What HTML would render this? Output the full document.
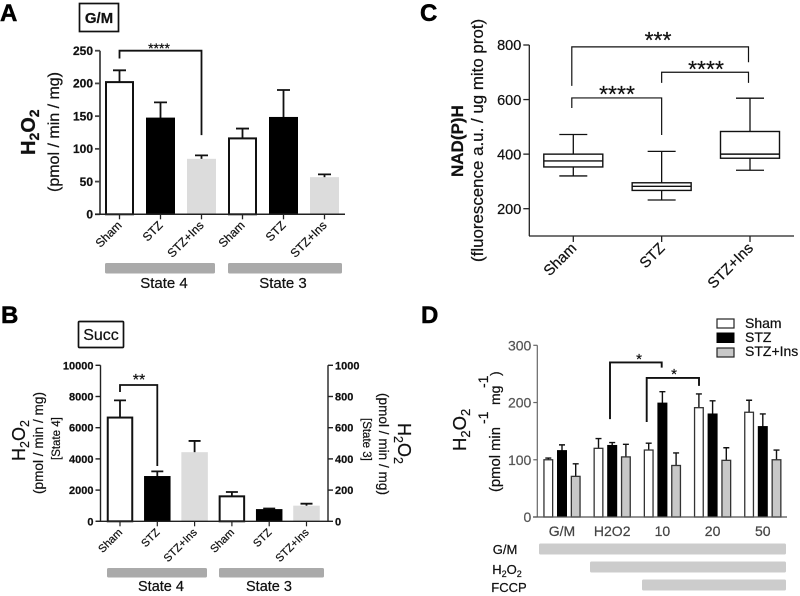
<!DOCTYPE html>
<html><head><meta charset="utf-8"><title>H2O2 and NAD(P)H panels</title>
<style>
html,body{margin:0;padding:0;background:#fff}
svg{display:block;filter:blur(.35px)}
text{font-family:"Liberation Sans",sans-serif;fill:#111;stroke:#111;stroke-width:.22px}
.l{font-size:24px;font-weight:bold;fill:#000;stroke:#000;stroke-width:.5px}
</style></head>
<body>
<svg id="fig" width="800" height="596" viewBox="0 0 800 596" xmlns="http://www.w3.org/2000/svg">
<text class="l" x="0" y="21">A</text>
<text class="l" x="420" y="21">C</text>
<text class="l" x="1" y="323">B</text>
<text class="l" x="421" y="323">D</text>

<rect x="79.5" y="3.5" width="39" height="28" fill="#fff" stroke="#111" stroke-width="1.7"/>
<text x="99" y="23" font-size="15" font-weight="bold" text-anchor="middle">G/M</text>
<text transform="translate(35,155) rotate(-90)" font-size="20" font-weight="bold">H<tspan font-size="14" dy="4">2</tspan><tspan dy="-4">O</tspan><tspan font-size="14" dy="4">2</tspan></text>
<text transform="translate(59,192) rotate(-90)" font-size="16">(pmol / min / mg)</text>
<rect x="105" y="263" width="110" height="10.5" rx="1.5" fill="#aaa"/>
<rect x="228" y="263" width="114" height="10.5" rx="1.5" fill="#aaa"/>
<text x="164" y="288" font-size="15" text-anchor="middle">State 4</text>
<text x="283" y="288" font-size="15" text-anchor="middle">State 3</text>

<rect x="78.5" y="321.5" width="45" height="26" rx="1" fill="#fff" stroke="#111" stroke-width="1.7"/>
<text x="101" y="340" font-size="16" text-anchor="middle">Succ</text>
<text transform="translate(25,461) rotate(-90)" font-size="18">H<tspan font-size="12.5" dy="4">2</tspan><tspan dy="-4">O</tspan><tspan font-size="12.5" dy="4">2</tspan></text>
<text transform="translate(43,494) rotate(-90)" font-size="13.6">(pmol / min / mg)</text>
<text transform="translate(60,460) rotate(-90)" font-size="11.5">[State 4]</text>
<text transform="translate(379,393) rotate(90)" font-size="13.6">(pmol / min / mg)</text>
<text transform="translate(363,418) rotate(90)" font-size="11.5">[State 3]</text>
<text transform="translate(398,423) rotate(90)" font-size="18">H<tspan font-size="12.5" dy="4">2</tspan><tspan dy="-4">O</tspan><tspan font-size="12.5" dy="4">2</tspan></text>
<rect x="107" y="568" width="100" height="9.5" rx="1.5" fill="#aaa"/>
<rect x="219" y="568" width="105" height="9.5" rx="1.5" fill="#aaa"/>
<text x="161" y="591" font-size="14.5" text-anchor="middle">State 4</text>
<text x="269" y="591" font-size="14.5" text-anchor="middle">State 3</text>

<text transform="translate(463,177) rotate(-90)" font-size="17" font-weight="bold">NAD(P)H</text>
<text transform="translate(483,262) rotate(-90)" font-size="16.9">(fluorescence a.u. / ug mito prot)</text>

<text transform="translate(466,451) rotate(-90)" font-size="18.5">H<tspan font-size="13" dy="4">2</tspan><tspan dy="-4">O</tspan><tspan font-size="13" dy="4">2</tspan></text>
<text transform="translate(500,492) rotate(-90)" font-size="14.8">(pmol min</text>
<text transform="translate(488,424) rotate(-90)" font-size="14">-1</text>
<text transform="translate(500,405) rotate(-90)" font-size="14">mg</text>
<text transform="translate(488,388) rotate(-90)" font-size="14">-1</text>
<text transform="translate(500,376) rotate(-90)" font-size="14">)</text>
<rect x="539" y="543.5" width="247" height="11" rx="1.5" fill="#ccc"/>
<rect x="590" y="561.5" width="196" height="11" rx="1.5" fill="#ccc"/>
<rect x="642" y="579.5" width="144" height="11" rx="1.5" fill="#ccc"/>
<text x="505" y="554" font-size="13" text-anchor="middle">G/M</text>
<text x="507" y="574" font-size="13" text-anchor="middle">H<tspan font-size="9" dy="3">2</tspan><tspan dy="-3">O</tspan><tspan font-size="9" dy="3">2</tspan></text>
<text x="509" y="592" font-size="13" text-anchor="middle">FCCP</text>

<g>
<rect x="717" y="319" width="17" height="9" fill="#fff" stroke="#222" stroke-width="1.2"/>
<rect x="717" y="333" width="17" height="9.5" fill="#000" stroke="#000" stroke-width="1"/>
<rect x="717" y="348" width="17" height="9" fill="#c8c8c8" stroke="#222" stroke-width="1.2"/>
<text x="745" y="328" font-size="14">Sham</text>
<text x="745" y="342" font-size="14">STZ</text>
<text x="745" y="356" font-size="14">STZ+Ins</text>
</g>
</svg>
<script>
// ---- Panel A data
const aCategories = ['Sham', 'STZ', 'STZ+Ins', 'Sham', 'STZ', 'STZ+Ins'];
const aValues = [202, 147, 84, 116, 148, 56];
const aErrorTops = [220, 171, 90, 131, 190, 61];
const aTicks = [0, 50, 100, 150, 200, 250];
// ---- Panel B data (first three on the left axis, last three on the right axis)
const bCategories = ['Sham', 'STZ', 'STZ+Ins', 'Sham', 'STZ', 'STZ+Ins'];
const bState4Values = [6650, 2870, 4400];
const bState4ErrorTops = [7750, 3200, 5150];
const bState3Values = [160, 75, 97];
const bState3ErrorTops = [188, 82, 113];
const bLeftTicks = [0, 2000, 4000, 6000, 8000, 10000];
const bRightTicks = [0, 200, 400, 600, 800, 1000];
// ---- Panel C data
const cCategories = ['Sham', 'STZ', 'STZ+Ins'];
const cWhiskerLow = [320, 232, 341];
const cQ1 = [353, 267, 385];
const cMedian = [375, 282, 400];
const cQ3 = [400, 295, 483];
const cWhiskerHigh = [472, 410, 605];
const cTicks = [200, 400, 600, 800];
// ---- Panel D data
const dGroups = ['G/M', 'H2O2', '10', '20', '50'];
const dSham = [100, 120, 117, 191, 183];
const dShamTops = [103, 137, 129, 215, 204];
const dStz = [116, 125, 199, 180, 158];
const dStzTops = [126, 130, 219, 203, 180];
const dStzIns = [71, 105, 90, 99, 100];
const dStzInsTops = [93, 127, 112, 121, 117];
const dTicks = [0, 100, 200, 300];

const svg = document.getElementById('fig');
const NS = 'http://www.w3.org/2000/svg';
function make(tag, attrs) {
  const e = document.createElementNS(NS, tag);
  for (const k in attrs) e.setAttribute(k, attrs[k]);
  svg.appendChild(e);
  return e;
}
function linear(d0, d1, r0, r1) { return v => r0 + (v - d0) * (r1 - r0) / (d1 - d0); }

function yAxis(name, x, y, ticks, side, opt) {
  const a = make('line', {x1: x, x2: x, y1: y(ticks[ticks.length - 1]), y2: opt.end || y(ticks[0]), stroke: opt.color, 'stroke-width': opt.sw});
  
  
  ticks.forEach(t => {
    const m = make('line', {x1: x, x2: x + side * opt.len, y1: y(t), y2: y(t), stroke: opt.color, 'stroke-width': opt.sw});
    
    
    const l = make('text', {x: x + side * (opt.len + 2), y: y(t) + opt.size * 0.36, 'font-size': opt.size, 'text-anchor': side < 0 ? 'end' : 'start', 'font-weight': opt.weight || 'normal'});
    if (opt.textColor) { l.style.fill = opt.textColor; l.style.stroke = opt.textColor; }
    l.textContent = t;
    
    
  });
}
function xLine(name, x1, x2, y, color, sw) {
  const a = make('line', {x1: x1, x2: x2, y1: y, y2: y, stroke: color, 'stroke-width': sw});
  
  
}
function bar(name, cx, w, value, top, y, style) {
  const base = y(0);
  const e = make('path', {d: 'M' + cx + ' ' + y(value) + 'V' + y(top) + 'M' + (cx - style.cap) + ' ' + y(top) + 'H' + (cx + style.cap), stroke: '#111', 'stroke-width': style.esw, fill: 'none'});
  
  
  const sw = style.sw;
  const r = make('rect', {x: cx - w / 2 + sw / 2, y: y(value), width: w - sw, height: base - y(value), fill: style.fill, stroke: style.stroke, 'stroke-width': sw});
  
  
}
function bracket(name, x1, x2, yTop, yLeft, yRight, y, stars, starX, starY, starSize, sw) {
  const p = make('path', {d: 'M' + x1 + ' ' + y(yLeft) + 'V' + y(yTop) + 'H' + x2 + 'V' + y(yRight), fill: 'none', stroke: '#111', 'stroke-width': sw});
  
  
  const t = make('text', {x: starX, y: starY, 'font-size': starSize, 'text-anchor': 'middle'});
  t.textContent = stars;
  
  
}
function rotLabel(name, text, x, y, size, weight) {
  const t = make('text', {transform: 'translate(' + x + ',' + y + ') rotate(-45)', 'font-size': size, 'text-anchor': 'end', 'font-weight': weight || 'normal'});
  t.textContent = text;
  
  
}
function xTick(name, x, y0, len, color, sw) {
  const m = make('line', {x1: x, x2: x, y1: y0, y2: y0 + len, stroke: color, 'stroke-width': sw});
  
  
}
const solidWhite = {fill: '#fff', stroke: '#111', sw: 2, cap: 6.5, esw: 1.8};
const solidBlack = {fill: '#000', stroke: '#000', sw: 1, cap: 6.5, esw: 1.8};
const lightGray = {fill: '#dcdcdc', stroke: '#dcdcdc', sw: 1, cap: 6.5, esw: 1.8};
const pattern = [solidWhite, solidBlack, lightGray];

// ---- Panel A
const ay = linear(0, 250, 214.3, 50.7);
const ax = i => 119.5 + i * 41;
yAxis('a-y', 100, ay, aTicks, -1, {color: '#444', sw: 1.8, len: 5, size: 12, weight: 'bold', end: 214.3});
aValues.forEach((v, i) => {
  bar('a-bar-' + i, ax(i), 29, v, aErrorTops[i], ay, pattern[i % 3]);
});
xLine('a-x', 95, 345, ay(0), '#222', 1.5);
aCategories.forEach((c, i) => {
  xTick('a-x-tick-' + i, ax(i), ay(0), 5, '#222', 1.3);
  rotLabel('a-x-label-' + i, c, ax(i) + 3, 226, 12, 'normal');
});
bracket('a-sham-vs-stz-ins', ax(0), ax(2), 250, 238, 121, ay, '****', 159, 53, 14, 1.8);

// ---- Panel B
const by = linear(0, 10000, 521.3, 365.3);
const by2 = linear(0, 1000, 521.3, 365.3);
const bx = i => 120 + i * 37.3;
yAxis('b-left-y', 100.5, by, bLeftTicks, -1, {color: '#222', sw: 1.4, len: 5, size: 11, weight: 'bold'});
yAxis('b-right-y', 328, by2, bRightTicks, 1, {color: '#222', sw: 1.4, len: 5, size: 11, weight: 'bold'});
bState4Values.forEach((v, i) => {
  bar('b-bar-state4-' + i, bx(i), 26.5, v, bState4ErrorTops[i], by, Object.assign({}, pattern[i % 3], {cap: 6}));
});
bState3Values.forEach((v, i) => {
  bar('b-bar-state3-' + i, bx(i + 3), 26.5, v, bState3ErrorTops[i], by2, Object.assign({}, pattern[i % 3], {cap: 6}));
});
xLine('b-x', 96, 328, by(0), '#222', 1.4);
bCategories.forEach((c, i) => {
  xTick('b-x-tick-' + i, bx(i), by(0), 5, '#222', 1.2);
  rotLabel('b-x-label-' + i, c, bx(i) + 3, 533, 11, 'normal');
});
bracket('b-sham-vs-stz', bx(0), bx(1), 8737, 8290, 3545, by, '**', 139, 385, 16, 1.8);

// ---- Panel C
const cy = linear(200, 800, 208.7, 45);
const cx = i => 573.3 + i * 88.35;
yAxis('c-y', 529.3, cy, cTicks, -1, {color: '#222', sw: 1.3, len: 6, size: 14.5, end: cy(100)});
xLine('c-x', 529, 794, cy(100), '#222', 1.3);
cCategories.forEach((c, i) => {
  const hw = 29.5, cap = 14, x = cx(i);
  const w = make('path', {d: 'M' + x + ' ' + cy(cQ3[i]) + 'V' + cy(cWhiskerHigh[i]) + 'M' + (x - cap) + ' ' + cy(cWhiskerHigh[i]) + 'H' + (x + cap) + 'M' + x + ' ' + cy(cQ1[i]) + 'V' + cy(cWhiskerLow[i]) + 'M' + (x - cap) + ' ' + cy(cWhiskerLow[i]) + 'H' + (x + cap), stroke: '#111', 'stroke-width': 1.3, fill: 'none'});
  
  
  const b = make('rect', {x: x - hw, y: cy(cQ3[i]), width: 2 * hw, height: cy(cQ1[i]) - cy(cQ3[i]), fill: '#fff', stroke: '#111', 'stroke-width': 1.4});
  
  
  const m = make('line', {x1: x - hw, x2: x + hw, y1: cy(cMedian[i]), y2: cy(cMedian[i]), stroke: '#111', 'stroke-width': 1.4});
  
  
  xTick('c-x-tick-' + i, x, cy(100), 6, '#222', 1.3);
  rotLabel('c-x-label-' + i, c, x + 4, 249, 15, 'normal');
});
bracket('c-sham-vs-stz-ins', cx(0) - 1.5, cx(2) - 1.5, 793, 650, 737, cy, '***', 658, 48, 23, 1.2);
bracket('c-stz-vs-stz-ins', cx(1), cx(2) - 1.5, 700, 661, 661, cy, '****', 706, 77, 23, 1.2);
bracket('c-sham-vs-stz', cx(0) - 1.5, cx(1), 606, 569, 470, cy, '****', 617, 102, 23, 1.2);

// ---- Panel D
const dy = linear(0, 300, 517, 345.3);
const dGroupX = i => 562 + i * 50.2;
const dStyles = [
  {fill: '#fff', stroke: '#333', sw: 1.3, cap: 3, esw: 1.4},
  {fill: '#000', stroke: '#000', sw: 1, cap: 3, esw: 1.4},
  {fill: '#c8c8c8', stroke: '#333', sw: 1.3, cap: 3, esw: 1.4}
];
const dSeries = [dSham, dStz, dStzIns];
const dTops = [dShamTops, dStzTops, dStzInsTops];
yAxis('d-y', 537.3, dy, dTicks, -1, {color: '#666', sw: 1.2, len: 4, size: 14, textColor: '#555'});
dGroups.forEach((g, i) => {
  dSeries.forEach((s, j) => {
    bar('d-bar-' + i + '-' + j, dGroupX(i) + (j - 1) * 13.7, 10, s[i], dTops[j][i], dy, dStyles[j]);
  });
  const t = make('text', {x: dGroupX(i), y: 536, 'font-size': 14, 'text-anchor': 'middle'});
  t.style.fill = '#444';
  t.style.stroke = '#444';
  t.textContent = g;
  
  
});
xLine('d-x', 533, 787, dy(0), '#555', 1.2);
bracket('d-h2o2-vs-10', 610, 661.7, 270, 171, 261, dy, '*', 639, 364, 15, 1.9);
bracket('d-10-vs-20', 646.7, 699, 243, 166, 229, dy, '*', 674, 379, 15, 1.9);
</script>
</body></html>
